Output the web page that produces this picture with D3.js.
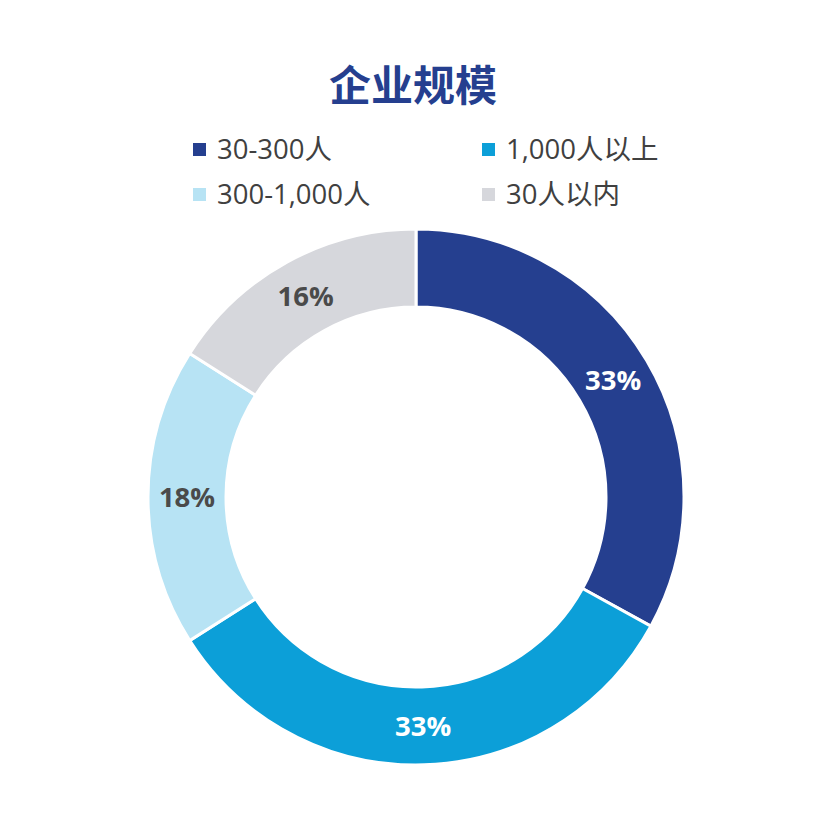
<!DOCTYPE html>
<html><head><meta charset="utf-8">
<script src="https://cdn.jsdelivr.net/npm/d3@7"></script>
<style>
html,body{margin:0;padding:0;background:#fff;}
svg{display:block;font-family:"Open Sans","Noto Sans CJK SC",sans-serif;}
</style></head>
<body>
<svg id="chart" width="835" height="834"></svg>
<script>
const title = "企业规模";
const categories = ["30-300人", "1,000人以上", "300-1,000人", "30人以内"];
const values = [33, 33, 18, 16];
const colors = ["#253f8f", "#0c9fd8", "#b7e3f4", "#d6d7dc"];
const labelColors = ["#ffffff", "#ffffff", "#4a4a4a", "#4a4a4a"];

const svg = d3.select("#chart");
const cx = 416, cy = 497, outerR = 268, innerR = 190;

svg.append("text")
  .attr("x", 413).attr("y", 101)
  .attr("text-anchor", "middle")
  .attr("font-family", "'Noto Sans CJK SC', sans-serif")
  .attr("font-weight", "bold")
  .attr("font-size", 42)
  .attr("fill", "#253f8f")
  .text(title);

// legend
const legendPos = [[193, 143], [482, 143], [193, 188], [482, 188]];
const lg = svg.append("g");
categories.forEach((c, i) => {
  const [x, y] = legendPos[i];
  lg.append("rect").attr("x", x).attr("y", y).attr("width", 13).attr("height", 13).attr("fill", colors[i]);
  lg.append("text").attr("x", x + 24).attr("y", y + 16)
    .attr("font-size", 27.5).attr("fill", "#404040")
    .text(c);
});

const pie = d3.pie().value(d => d).sort(null);
const arc = d3.arc().innerRadius(innerR).outerRadius(outerR);
const g = svg.append("g").attr("transform", `translate(${cx},${cy})`);
const arcs = pie(values);
g.selectAll("path").data(arcs).join("path")
  .attr("d", arc)
  .attr("fill", (d, i) => colors[i])
  .attr("stroke", "#ffffff").attr("stroke-width", 3);

g.selectAll("text.lbl").data(arcs).join("text")
  .attr("class", "lbl")
  .attr("transform", d => `translate(${arc.centroid(d)})`)
  .attr("text-anchor", "middle")
  .attr("dy", "0.35em")
  .attr("font-weight", "bold")
  .attr("font-size", 27.5)
  .attr("fill", (d, i) => labelColors[i])
  .text(d => d.data + "%");
</script>
</body></html>
